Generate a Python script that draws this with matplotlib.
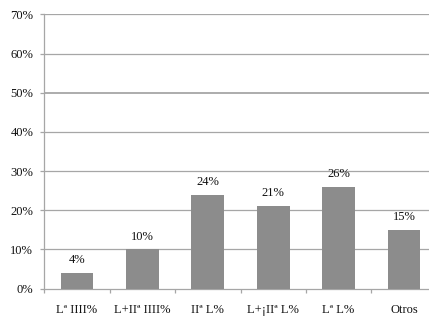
import matplotlib
matplotlib.use("Agg")
import matplotlib.pyplot as plt
import numpy as np

categories = ["Lª IIII%", "L+IIª IIII%", "IIª L%", "L+¡IIª L%", "Lª L%", "Otros"]
values = [4, 10, 24, 21, 26, 15]
y_ticks = [0, 10, 20, 30, 40, 50, 60, 70]

plt.rcParams["font.family"] = ["Liberation Serif", "DejaVu Serif"]

fig = plt.figure(figsize=(4.29, 3.23), dpi=100)
ax = fig.add_axes([0.1033, 0.1062, 0.9147, 0.8495])

grid_c = "#a6a6a6"
txt_c = "#111111"
fs = 9
x = np.arange(len(categories))
ax.bar(x, values, width=0.5, color="#8c8c8c", zorder=3)

for xi, v in zip(x, values):
    ax.annotate(f"{v}%", (xi, v), xytext=(0, 5), textcoords="offset points",
                ha="center", va="bottom", fontsize=fs, color=txt_c)

ax.set_xlim(-0.5, len(categories) - 0.5)
ax.set_ylim(0, 70)
ax.set_yticks(y_ticks)
ax.set_yticklabels([f"{t}%" for t in y_ticks], fontsize=fs, color=txt_c)
for t in y_ticks[1:]:
    ax.axhline(t, color=grid_c, lw=1.3 if t == 50 else 0.9, zorder=1)

ax.set_xticks(x)
ax.set_xticklabels(categories, fontsize=fs, color=txt_c)
ax.set_xticks(np.arange(-0.5, len(categories)), minor=True)
ax.tick_params(axis="x", which="major", length=0, pad=11)
ax.tick_params(axis="x", which="minor", length=3, width=0.9, color=grid_c, direction="out")
ax.tick_params(axis="y", length=3, width=0.9, color=grid_c, direction="out", pad=5)

for s in ["top", "right"]:
    ax.spines[s].set_visible(False)
for s in ["left", "bottom"]:
    ax.spines[s].set_color(grid_c)
    ax.spines[s].set_linewidth(0.9)

fig.savefig("out.png", dpi=100)
